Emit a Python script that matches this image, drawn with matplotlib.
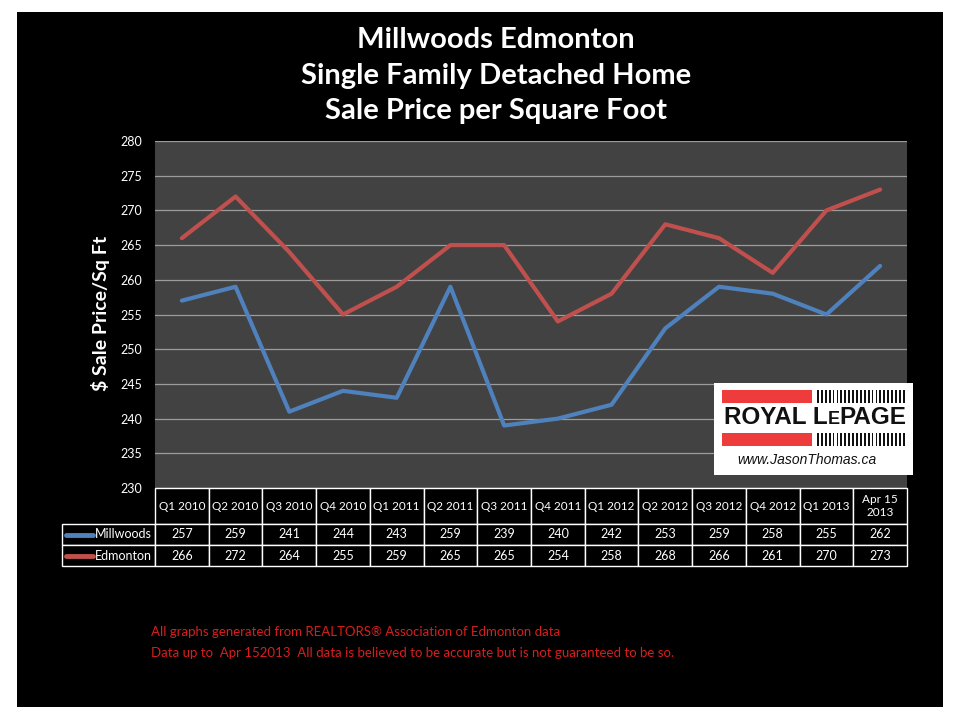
import numpy as np
import matplotlib
matplotlib.use("Agg")
import matplotlib.pyplot as plt
import matplotlib.transforms as mtransforms
from matplotlib.patches import Rectangle

plt.rcParams['font.family'] = ['Lato', 'DejaVu Sans']

# data
categories = ['Q1 2010', 'Q2 2010', 'Q3 2010', 'Q4 2010', 'Q1 2011', 'Q2 2011',
              'Q3 2011', 'Q4 2011', 'Q1 2012', 'Q2 2012', 'Q3 2012', 'Q4 2012',
              'Q1 2013', 'Apr 15\n2013']
millwoods = [257, 259, 241, 244, 243, 259, 239, 240, 242, 253, 259, 258, 255, 262]
edmonton = [266, 272, 264, 255, 259, 265, 265, 254, 258, 268, 266, 261, 270, 273]
series_names = ['Millwoods', 'Edmonton']
series_colors = ['#4f81bd', '#c0504d']

W, H = 960, 720
fig = plt.figure(figsize=(W / 100, H / 100), dpi=100, facecolor='white')

# black slide background
fig.patches.append(Rectangle((17 / W, 1 - 707 / H), 926 / W, 695 / H,
                             transform=fig.transFigure, facecolor='black',
                             edgecolor='none', zorder=-10))

# title
title_lines = ['Millwoods Edmonton', 'Single Family Detached Home',
               'Sale Price per Square Foot']
for yy, line in zip([40, 76, 111], title_lines):
    fig.text(496 / W, 1 - yy / H, line, ha='center', va='center',
             color='white', fontsize=21, fontweight='bold')

# plot area
ax = fig.add_axes([155 / W, 1 - 488 / H, 752 / W, 347 / H])
ax.set_facecolor('#424242')
x = np.arange(len(categories))
data = [millwoods, edmonton]
for vals, c in zip(data, series_colors):
    ax.plot(x, vals, color=c, lw=3, solid_joinstyle='round',
            solid_capstyle='round', zorder=3)
ax.set_xlim(-0.5, len(categories) - 0.5)
ax.set_ylim(230, 280)
ax.set_yticks(np.arange(230, 281, 5))
ax.set_xticks([])
ax.grid(axis='y', color='#9c9c9c', lw=0.9)
ax.set_axisbelow(True)
for s in ax.spines.values():
    s.set_visible(False)
ax.tick_params(axis='y', colors='white', length=0, labelsize=9, pad=9)

fig.text(100 / W, 1 - 313 / H, '$ Sale Price/Sq Ft', rotation=90, ha='center',
         va='center', color='white', fontsize=14, fontweight='bold')

# data table under the plot: x in data units, y in axes units
trans = mtransforms.blended_transform_factory(ax.transData, ax.transAxes)
ph = 347.0
fs_tab = 8.5
row_top = [0, -36 / ph, -57 / ph]
row_h = [36 / ph, 21 / ph, 21 / ph]
cell_kw = dict(facecolor='black', edgecolor='white', lw=1, clip_on=False)
for j, cat in enumerate(categories):
    ax.add_patch(Rectangle((j - 0.5, row_top[0] - row_h[0]), 1, row_h[0],
                           transform=trans, **cell_kw))
    ax.text(j, row_top[0] - row_h[0] / 2, cat, transform=trans, ha='center',
            va='center', color='white', fontsize=fs_tab, linespacing=1.3,
            clip_on=False)
for i, vals in enumerate(data):
    top, h = row_top[i + 1], row_h[i + 1]
    ax.add_patch(Rectangle((-93 / 752, top - h), 93 / 752, h,
                           transform=ax.transAxes, **cell_kw))
    ax.text(-3 / 752, top - h / 2, series_names[i], transform=ax.transAxes,
            ha='right', va='center', color='white', fontsize=fs_tab + 0.5,
            clip_on=False)
    ax.plot([-89 / 752, -62 / 752], [top - h / 2] * 2, color=series_colors[i],
            lw=3.5, solid_capstyle='round', transform=ax.transAxes,
            clip_on=False)
    for j, v in enumerate(vals):
        ax.add_patch(Rectangle((j - 0.5, top - h), 1, h, transform=trans,
                               **cell_kw))
        ax.text(j, top - h / 2, str(v), transform=trans, ha='center',
                va='center', color='white', fontsize=fs_tab + 0.5,
                clip_on=False)

# footer notes
fig.text(151 / W, 1 - 632 / H,
         'All graphs generated from REALTORS\u00ae Association of Edmonton data',
         color='#d81e1e', fontsize=9.5, va='center')
fig.text(151 / W, 1 - 653 / H,
         'Data up to  Apr 152013  All data is believed to be accurate but is not guaranteed to be so.',
         color='#d81e1e', fontsize=9.5, va='center')

# Royal LePage logo box
lg = fig.add_axes([714 / W, 1 - 475 / H, 199 / W, 92 / H])
lg.set_xlim(0, 199)
lg.set_ylim(92, 0)
lg.set_facecolor('white')
lg.set_xticks([])
lg.set_yticks([])
for s in lg.spines.values():
    s.set_visible(False)
red = '#ee3b3b'
for y0 in (7, 50):
    lg.add_patch(Rectangle((8, y0), 90, 13, facecolor=red, edgecolor='none'))
    for bx in np.arange(103, 192, 3.9):
        lg.add_patch(Rectangle((bx, y0), 1.8, 13, facecolor='#111111',
                               edgecolor='none'))
renderer = fig.canvas.get_renderer()
t1 = lg.text(10, 35, 'ROYAL L', fontsize=17.5, fontweight='bold', color='#111111',
             va='center', ha='left', family='Liberation Sans')
w1 = t1.get_window_extent(renderer).width
t2 = lg.text(10 + w1, 36.5, 'E', fontsize=13, fontweight='bold', color='#111111',
             va='center', ha='left', family='Liberation Sans')
w2 = t2.get_window_extent(renderer).width
lg.text(10 + w1 + w2, 35, 'PAGE', fontsize=17.5, fontweight='bold', color='#111111',
        va='center', ha='left', family='Liberation Sans')
lg.text(93, 77, 'www.JasonThomas.ca', fontsize=10, style='italic', color='#111111',
        va='center', ha='center', family='Liberation Sans')

fig.savefig('out.png', dpi=100, facecolor='white')
